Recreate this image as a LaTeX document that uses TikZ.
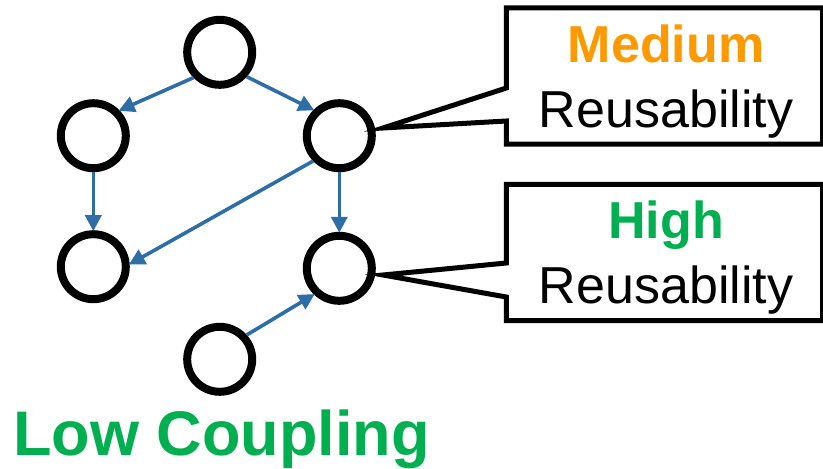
\documentclass[tikz,border=0pt]{standalone}
\usepackage{fontspec}
\setmainfont{Liberation Sans}
\usetikzlibrary{arrows.meta}
\definecolor{arrowblue}{HTML}{2E6EA8}
\definecolor{medorange}{HTML}{FF9900}
\definecolor{hgreen}{HTML}{00B050}
\begin{document}
\begin{tikzpicture}[x=1pt,y=-1pt,
  vertex/.style={circle,draw=black,line width=8pt,minimum size=65pt,inner sep=0pt},
  dep/.style={draw=arrowblue,line width=3.6pt,-{Triangle[length=16pt,width=16pt]},shorten >=-1pt},
  callout/.style={draw=black,fill=white,line width=5pt,line join=miter},
  boxshape/.style={minimum width=316pt,minimum height=136pt,inner sep=0pt},
  big/.style={font=\fontsize{52}{62}\selectfont,anchor=base,inner sep=0pt}]
\useasboundingbox (0,0) rectangle (823,469);
% vertices
\node[vertex] (top) at (219.7,52.3) {};
\node[vertex] (left) at (93.3,135.7) {};
\node[vertex] (right) at (339.3,135.7) {};
\node[vertex] (bl) at (93.3,266.7) {};
\node[vertex] (br) at (339.3,268.3) {};
\node[vertex] (bot) at (219.7,359.3) {};
% dependencies
\draw[dep] (top.224) -- (left.44);
\draw[dep] (top.318) -- (right.135);
\draw[dep] (left.south) -- (bl.north);
\draw[dep] (right.south) -- (br.north);
\draw[dep] (right.224) -- (bl.4);
\draw[dep] (bot.42) -- (br.226);
% callout boxes
\node[boxshape] (box1) at (664.5,76) {};
\node[boxshape] (box2) at (664.5,252.5) {};
\coordinate (tip1) at (383,128);
\coordinate (tip2) at (383,275);
\draw[callout] (box1.north west) -- (box1.north east) -- (box1.south east) -- (box1.south west)
  -- (box1.west |- 0,121) -- (tip1) -- (box1.west |- 0,88) -- cycle;
\draw[callout] (box2.north west) -- (box2.north east) -- (box2.south east) -- (box2.south west)
  -- (box2.west |- 0,297) -- (tip2) -- (box2.west |- 0,263) -- cycle;
\node[big,text=medorange,font=\fontsize{52}{62}\selectfont\bfseries] (med) at (666,62) {Medium};
\node[big] (reu1) at (666,127) {Reusability};
\node[big,text=hgreen,font=\fontsize{52}{62}\selectfont\bfseries] (high) at (666,238) {High};
\node[big] (reu2) at (666,303) {Reusability};
\node[big,text=hgreen,font=\fontsize{63}{70}\selectfont\bfseries,anchor=base west] (low) at (13,455) {Low Coupling};
\end{tikzpicture}
\end{document}
